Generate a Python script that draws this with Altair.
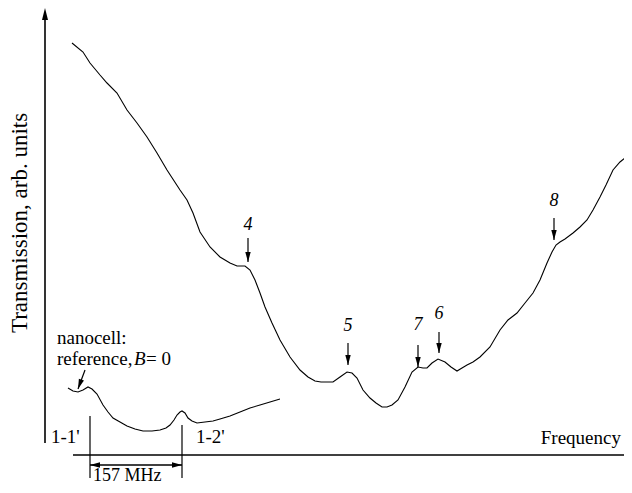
import altair as alt
import pandas as pd

# ---- data (frequency / transmission in arbitrary units) ----
main_freq = [72, 83, 90, 100, 107, 117, 127, 137, 147, 157, 167, 180, 187, 193, 200, 210, 220, 230,
             237, 245, 250, 255, 260, 265, 272, 280, 290, 300, 308, 315, 321, 327, 333, 340, 347,
             352, 357, 363, 370, 376, 382, 387, 392, 398, 405, 412, 418, 423, 427, 432, 438, 445,
             451, 457, 462, 467, 473, 480, 490, 500, 508, 517, 525, 533, 540, 547, 552, 556, 560,
             565, 573, 580, 587, 593, 600, 606, 613, 620, 626, 630]
main_img = [43, 52, 63, 75, 83, 93, 110, 123, 137, 153, 170, 190, 200, 213, 232, 247, 257, 263,
            266, 266, 270, 280, 293, 307, 323, 340, 357, 370, 377, 381, 382, 382, 382, 377, 372,
            373, 378, 390, 398, 403, 407, 407, 405, 400, 387, 372, 367, 368, 368, 363, 359, 362,
            367, 371, 368, 365, 362, 357, 347, 330, 320, 313, 303, 293, 280, 263, 252, 245, 242,
            239, 233, 227, 220, 210, 197, 185, 170, 162, 157, 155]

ref_freq = [68, 73, 78, 83, 88, 92, 97, 103, 108, 113, 120, 127, 135, 143, 152, 160, 166, 170,
            174, 177, 180, 182, 185, 188, 192, 197, 205, 213, 220, 230, 240, 250, 260, 270, 280]
ref_img = [388, 391, 392, 390, 387, 389, 394, 405, 412, 418, 422, 426, 429, 431, 431, 430, 428, 425,
           420, 415, 412, 411, 413, 418, 421, 423, 422, 421, 419, 416, 412, 408, 405, 402, 399]

BASE = 485  # transmission = BASE - picture row
main_trans = [BASE - v for v in main_img]
ref_trans = [BASE - v for v in ref_img]

peak_labels = ["4", "5", "7", "6", "8"]
peak_freq = [248, 348, 418, 439, 554]
peak_label_trans = [BASE - 225, BASE - 326, BASE - 325, BASE - 314, BASE - 201]
peak_stem_top = [BASE - 238, BASE - 343, BASE - 345, BASE - 332, BASE - 218]
peak_tip = [BASE - 262, BASE - 365, BASE - 367, BASE - 353, BASE - 240]

# ---- tables ----
main_df = pd.DataFrame({"f": main_freq, "t": main_trans})
ref_df = pd.DataFrame({"f": ref_freq, "t": ref_trans})
peaks_df = pd.DataFrame({"lab": peak_labels, "f": peak_freq, "tl": peak_label_trans,
                         "t1": peak_stem_top, "t2": peak_tip})

X = alt.Scale(domain=[8, 624], nice=False, zero=False)
Y = alt.Scale(domain=[0, 477], nice=False, zero=False)
FONT = "Liberation Serif"


def xe(field):
    return alt.X(field, type="quantitative", scale=X, axis=None)


def ye(field):
    return alt.Y(field, type="quantitative", scale=Y, axis=None)


DOWN = "M0,0L-0.27,-1L0.27,-1Z"
UP = "M0,0L-0.25,1L0.25,1Z"
LEFT = "M0,0L1,-0.28L1,0.28Z"
RIGHT = "M0,0L-1,-0.28L-1,0.28Z"

main_line = alt.Chart(main_df).mark_line(color="black", strokeWidth=1.1).encode(x=xe("f"), y=ye("t"))
ref_line = alt.Chart(ref_df).mark_line(color="black", strokeWidth=1.1).encode(x=xe("f"), y=ye("t"))

# axes drawn as arrows
axes_df = pd.DataFrame({"f": [45, 73], "f2": [45, 628], "t": [BASE - 443, BASE - 455],
                        "t2": [BASE - 14, BASE - 455]})
axes = alt.Chart(axes_df).mark_rule(color="black", strokeWidth=1.6).encode(
    x=xe("f"), x2="f2", y=ye("t"), y2="t2")
yhead = alt.Chart(pd.DataFrame({"f": [45], "t": [BASE - 8]})).mark_point(
    shape=UP, size=576, filled=True, color="black", opacity=1, strokeWidth=0).encode(x=xe("f"), y=ye("t"))
xend = alt.Chart(pd.DataFrame({"f": [628], "t": [BASE - 455]})).mark_point(
    shape="square", size=30, filled=True, color="black", opacity=1).encode(x=xe("f"), y=ye("t"))

# peak labels and arrows
peak_text = alt.Chart(peaks_df).mark_text(font=FONT, fontSize=18, fontStyle="italic",
                                          color="black", baseline="middle").encode(
    x=xe("f"), y=ye("tl"), text="lab")
peak_stem = alt.Chart(peaks_df).mark_rule(color="black", strokeWidth=1.2).encode(
    x=xe("f"), y=ye("t1"), y2="t2")
peak_head = alt.Chart(peaks_df).mark_point(shape=DOWN, size=400, filled=True, color="black",
                                           opacity=1, strokeWidth=0).encode(x=xe("f"), y=ye("t2"))

# nanocell reference arrow
nano_df = pd.DataFrame({"f": [85], "t": [BASE - 370], "f2": [78], "t2": [BASE - 389]})
nano_stem = alt.Chart(nano_df).mark_rule(color="black", strokeWidth=1.2).encode(
    x=xe("f"), y=ye("t"), x2="f2", y2="t2")
nano_head = alt.Chart(nano_df).mark_point(shape=DOWN, size=400, filled=True, color="black",
                                          opacity=1, strokeWidth=0, angle=20).encode(x=xe("f2"), y=ye("t2"))

# 157 MHz marker
ticks_df = pd.DataFrame({"f": [90, 182], "t": [BASE - 416, BASE - 425], "t2": [BASE - 478, BASE - 478]})
ticks = alt.Chart(ticks_df).mark_rule(color="black", strokeWidth=1.2).encode(x=xe("f"), y=ye("t"), y2="t2")
span_df = pd.DataFrame({"f": [90], "f2": [182], "t": [BASE - 465]})
span = alt.Chart(span_df).mark_rule(color="black", strokeWidth=1.4).encode(x=xe("f"), x2="f2", y=ye("t"))
lhead = alt.Chart(span_df).mark_point(shape=LEFT, size=400, filled=True, color="black",
                                      opacity=1, strokeWidth=0).encode(x=xe("f"), y=ye("t"))
rhead = alt.Chart(span_df).mark_point(shape=RIGHT, size=400, filled=True, color="black",
                                      opacity=1, strokeWidth=0).encode(x=xe("f2"), y=ye("t"))

# texts
texts_df = pd.DataFrame({
    "txt": ["nanocell:", "reference,", "= 0", "1-1'", "1-2'", "Frequency"],
    "f": [57, 57, 146, 51, 196, 621],
    "t": [BASE - 338, BASE - 359, BASE - 359, BASE - 437, BASE - 437, BASE - 438],
    "al": ["left", "left", "left", "left", "left", "right"],
})
texts_left = alt.Chart(texts_df[texts_df.al == "left"]).mark_text(
    font=FONT, fontSize=19, color="black", align="left", baseline="middle").encode(
    x=xe("f"), y=ye("t"), text="txt")
texts_right = alt.Chart(texts_df[texts_df.al == "right"]).mark_text(
    font=FONT, fontSize=19, color="black", align="right", baseline="middle").encode(
    x=xe("f"), y=ye("t"), text="txt")
mhz = alt.Chart(pd.DataFrame({"txt": ["157 MHz"], "f": [93], "t": [BASE - 485]})).mark_text(
    font=FONT, fontSize=18, color="black", align="left", baseline="bottom").encode(
    x=xe("f"), y=ye("t"), text="txt")
b_text = alt.Chart(pd.DataFrame({"txt": ["B"], "f": [134], "t": [BASE - 359]})).mark_text(
    font=FONT, fontSize=19, fontStyle="italic", color="black", align="left", baseline="middle").encode(
    x=xe("f"), y=ye("t"), text="txt")
ytitle = alt.Chart(pd.DataFrame({"txt": ["Transmission, arb. units"], "f": [20], "t": [BASE - 223]})).mark_text(
    font=FONT, fontSize=23, color="black", angle=270, align="center", baseline="middle").encode(
    x=xe("f"), y=ye("t"), text="txt")

chart = alt.layer(
    main_line, ref_line, axes, yhead, xend, peak_stem, peak_head, peak_text,
    nano_stem, nano_head, ticks, span, lhead, rhead, texts_left, texts_right, mhz, b_text, ytitle,
).properties(width=616, height=477, padding=0, autosize="none", background="white").configure_view(stroke=None)

chart.save("out.html", embed_options={"renderer": "svg", "actions": False})
